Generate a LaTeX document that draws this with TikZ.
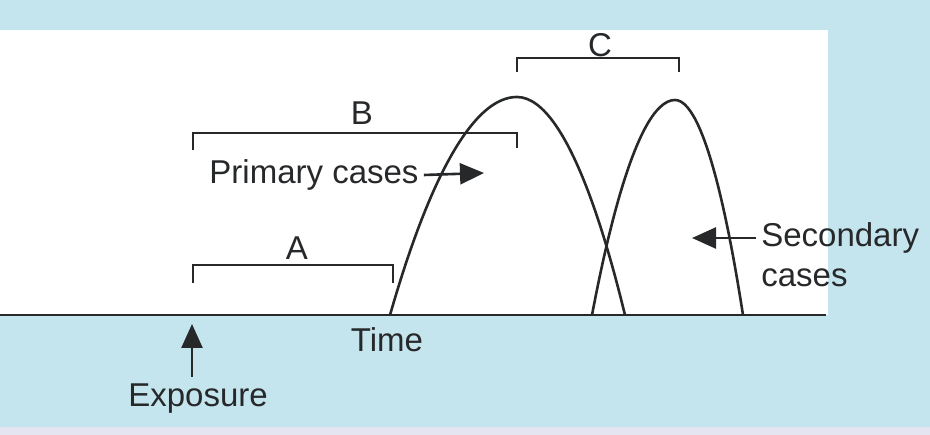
\documentclass[tikz,border=0pt]{standalone}
\usepackage{fontspec}
\setmainfont{Liberation Sans}
\usetikzlibrary{arrows.meta}
\definecolor{bgBlue}{RGB}{197,229,238}
\definecolor{bgLilac}{RGB}{229,229,242}
\definecolor{inkGray}{RGB}{38,40,42}

\begin{document}
\begin{tikzpicture}[x=1pt, y=-1pt, text=inkGray, draw=inkGray, line width=2.6pt,
		every node/.style={font=\fontsize{33}{40}\selectfont, inner sep=4pt}]
		% Background
		\fill[bgBlue] (0,0) rectangle (930,435);
		\fill[bgLilac] (0,427) rectangle (930,435);
		\fill[white] (0,30) rectangle (828,315);
		\useasboundingbox (0,0) rectangle (930,435);
		
		% Time axis
		\coordinate (o) at (0,315);
		\coordinate (end) at (826,315);
		\draw[line width=2.2pt] (o) -- (end);
		\node (time) at (387,340) {Time};
		
		% Epidemic curves
		\draw (390,315) parabola bend (517,97) (625,315);
		\draw (592,315) parabola bend (675,100) (743,315);
		
		% Brackets
		\draw (193,283) -- (193,265) -- (393,265) -- (393,283);
		\node (A) at (297,248) {A};
		\draw (193,150) -- (193,133) -- (517,133) -- (517,148);
		\node (B) at (362,113) {B};
		\draw (517,72) -- (517,58) -- (679,58) -- (679,72);
		\node (C) at (600,45) {C};
		
		% Labels
		\node (prim) at (314,175) {Primary cases};
		\node (sec1) [anchor=west] at (756,238) {Secondary};
		\node (sec2) [anchor=west] at (756,278) {cases};
		\node (expo) [inner sep=6pt] at (198,399) {Exposure};
		\coordinate (primtip) at (484,173);
		\coordinate (sectip) at (692,238);
		\coordinate (expotip) at (192,324);
		
		% Arrows
		\begin{scope}[every path/.style={-{Triangle[length=24pt,width=21pt]}}]
			\path [draw] (prim.east) -- (primtip);
			\path [draw] (sec1.west) -- (sectip);
			\path [draw] (expotip |- expo.north) -- (expotip);
		\end{scope}
	\end{tikzpicture}
\end{document}
